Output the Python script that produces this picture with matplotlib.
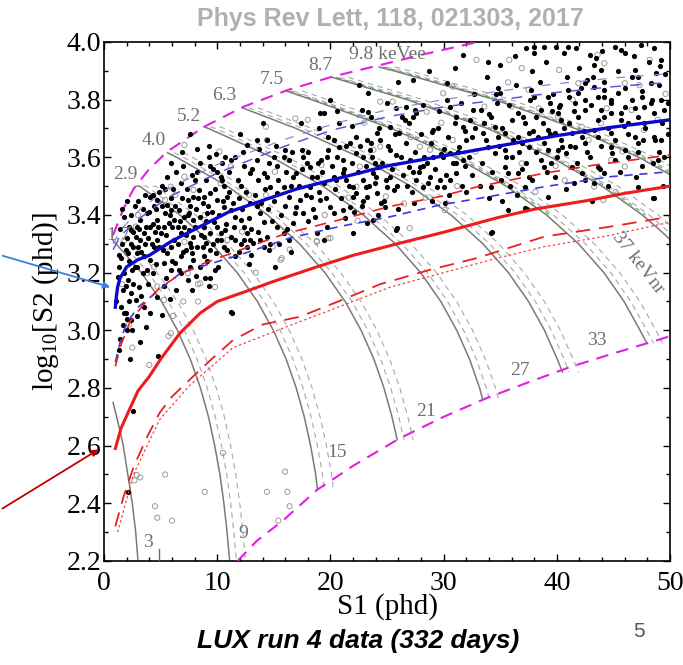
import matplotlib.pyplot as plt
from matplotlib.patches import FancyArrowPatch
from matplotlib.ticker import MultipleLocator

plt.rcParams["mathtext.fontset"] = "custom"
plt.rcParams["mathtext.rm"] = "Liberation Serif"
plt.rcParams["mathtext.it"] = "Liberation Serif:italic"

# ---- band curves (S1 in phd, log10 S2) ----
er_med_s1 = [1, 1.1, 1.2, 1.4, 2, 3, 4, 6, 8.5, 11, 14, 17, 20, 25, 30, 35, 40, 45, 50]
er_med_y = [3.08, 3.12, 3.15, 3.18, 3.22, 3.245, 3.26, 3.31, 3.36, 3.41, 3.45, 3.49, 3.52, 3.57, 3.605, 3.64, 3.675, 3.705, 3.73]

er_hi_s1 = [0.8, 1.5, 3.2, 5.6, 10, 15.8, 20.2, 25, 30, 35, 40, 45, 50]
er_hi_y = [3.28, 3.33, 3.39, 3.46, 3.545, 3.636, 3.695, 3.74, 3.775, 3.80, 3.825, 3.845, 3.86]
er_hi2_y = [3.30, 3.35, 3.42, 3.49, 3.575, 3.66, 3.715, 3.765, 3.80, 3.83, 3.855, 3.875, 3.89]

er_lo_s1 = [1, 1.5, 2, 3, 4.1, 5.5, 6.8, 8.5, 12.4, 16.4, 20.8, 25.3, 29.7, 33.2, 38.9, 44.8, 50]
er_lo_y = [2.89, 2.97, 3.025, 3.08, 3.115, 3.16, 3.20, 3.22, 3.267, 3.32, 3.36, 3.394, 3.435, 3.458, 3.498, 3.533, 3.55]

nr_med_s1 = [1, 1.5, 2.3, 3, 4, 5, 6.7, 8.5, 10, 12.9, 15, 18.8, 22, 25.9, 30, 34.7, 38, 42.7, 46, 50]
nr_med_y = [2.59, 2.66, 2.73, 2.79, 2.84, 2.90, 2.99, 3.06, 3.10, 3.14, 3.17, 3.22, 3.26, 3.30, 3.34, 3.39, 3.42, 3.45, 3.475, 3.50]

nr_hi_s1 = [1, 1.5, 2.3, 3.5, 5, 7, 9, 12.4, 16, 20.8, 25.3, 29.7, 33, 38.9, 43.3, 50]
nr_hi_y = [2.875, 2.95, 3.03, 3.09, 3.15, 3.20, 3.235, 3.284, 3.335, 3.383, 3.43, 3.464, 3.498, 3.545, 3.573, 3.608]

nr_lo_s1 = [1, 1.7, 2.6, 3.8, 4.9, 6, 7.6, 9.5, 11.4, 14, 17.3, 21, 24.4, 28.8, 32.9, 38.9, 44.8, 50]
nr_lo_y = [2.32, 2.42, 2.525, 2.63, 2.713, 2.77, 2.83, 2.90, 2.966, 3.02, 3.047, 3.105, 3.16, 3.21, 3.25, 3.325, 3.36, 3.394]
nr_lo2_s1 = [1.2, 2.6, 4.9, 7.6, 11.4, 17.3, 21, 25.3, 30, 34.7, 38.9, 44.8, 50]
nr_lo2_y = [2.30, 2.50, 2.69, 2.81, 2.94, 3.03, 3.085, 3.15, 3.20, 3.25, 3.29, 3.33, 3.375]

# ---- acceptance boundaries (magenta) ----
top_s1 = [0.8, 1.7, 2.6, 4, 5.6, 8.8, 12.3, 16.2, 20.2, 24.4, 28, 33]
top_y = [3.33, 3.42, 3.49, 3.56, 3.62, 3.705, 3.775, 3.833, 3.88, 3.92, 3.955, 4.0]
bot_s1 = [11.8, 13.5, 15.8, 18.8, 22, 26.1, 30, 33.8, 37.5, 41.2, 45, 48.9, 50]
bot_y = [2.2, 2.27, 2.34, 2.446, 2.53, 2.625, 2.70, 2.765, 2.82, 2.873, 2.92, 2.966, 2.98]

# ---- energy contours (gray) ----
contours = {
    "3": ([0.8, 1.3, 1.7, 2.1, 2.5, 2.8, 3.0],
          [2.75, 2.67, 2.6, 2.5, 2.4, 2.3, 2.2]),
    "9": ([0.8, 1.06, 3.3, 5.08, 6.49, 7.62, 8.52, 9.23, 9.78, 10.24, 10.59, 10.87, 11.1],
          [3.31, 3.3, 3.2, 3.1, 3.0, 2.9, 2.8, 2.7, 2.6, 2.5, 2.4, 2.3, 2.2]),
    "15": ([2.9, 3.14, 6.7, 9.52, 11.76, 13.55, 14.96, 16.09, 16.98, 17.69, 18.25, 18.7, 18.85],
           [3.50, 3.5, 3.4, 3.3, 3.2, 3.1, 3.0, 2.9, 2.8, 2.7, 2.6, 2.5, 2.45]),
    "21": ([5.6, 6.41, 10.89, 14.45, 17.27, 19.51, 21.3, 22.71, 23.84, 24.73, 25.44, 25.9],
           [3.616, 3.6, 3.5, 3.4, 3.3, 3.2, 3.1, 3.0, 2.9, 2.8, 2.7, 2.62]),
    "27": ([8.8, 9.23, 14.86, 19.34, 22.9, 25.73, 27.97, 29.75, 31.16, 32.29, 33.18, 33.45],
           [3.706, 3.7, 3.6, 3.5, 3.4, 3.3, 3.2, 3.1, 3.0, 2.9, 2.8, 2.76]),
    "33": ([12.2, 16.97, 22.6, 27.1, 30.65, 33.47, 35.72, 37.5, 38.91, 40.04, 40.5],
           [3.772, 3.7, 3.6, 3.5, 3.4, 3.3, 3.2, 3.1, 3.0, 2.9, 2.855]),
    "37": ([16.1, 18.33, 25.4, 31.05, 35.53, 39.09, 41.92, 44.16, 45.94, 47.35, 47.95],
           [3.83, 3.8, 3.7, 3.6, 3.5, 3.4, 3.3, 3.2, 3.1, 3.0, 2.955]),
    "8.7": ([20.2, 26.78, 33.87, 39.5, 44.0, 47.55, 49.03, 50],
            [3.877, 3.8, 3.7, 3.6, 3.5, 3.4, 3.35, 3.315]),
    "9.8": ([24.3, 25.6, 34.53, 41.62, 47.25, 50],
            [3.913, 3.9, 3.8, 3.7, 3.6, 3.54]),
}
green_keys = ["37", "8.7", "9.8"]

ee_labels = ["1.7", "2.9", "4.0", "5.2", "6.3", "7.5", "8.7", "9.8 keVee"]
ee_s1 = [1.3, 1.9, 4.4, 7.5, 10.6, 14.8, 19.1, 25.0]
ee_y = [3.33, 3.54, 3.66, 3.74, 3.816, 3.87, 3.92, 3.955]
nr_labels = ["3", "9", "15", "21", "27", "33"]
nr_s1 = [3.9, 12.3, 20.6, 28.4, 36.7, 43.5]
nr_y = [2.265, 2.297, 2.575, 2.72, 2.86, 2.966]

# ---- events ----
black_pts = [
    (13.5, 3.66), (14.4, 3.66), (9.3, 3.60), (10.7, 3.60), (11.2, 3.59), (9.9, 3.61), (12.6, 3.643),
    (13.5, 3.59), (14.1, 3.545), (14.4, 3.53), (15.3, 3.57), (15.9, 3.60), (16.3, 3.59),
    (12.4, 3.57), (12.9, 3.545), (11.8, 3.52), (12.1, 3.50), (9.4, 3.57), (10.0, 3.55), (10.3, 3.53),
    (10.4, 3.52), (10.6, 3.50), (7.8, 3.54), (8.2, 3.55), (5.4, 3.49), (5.9, 3.46), (5.6, 3.435),
    (7.1, 3.394), (7.5, 3.406), (7.9, 3.383), (8.5, 3.394), (8.8, 3.36), (9.1, 3.406), (9.7, 3.377),
    (10.0, 3.36), (11.2, 3.417), (11.6, 3.394), (12.1, 3.383), (12.4, 3.36), (12.6, 3.337),
    (12.9, 3.44), (13.5, 3.43), (13.8, 3.406), (14.1, 3.377), (14.4, 3.325), (14.7, 3.30),
    (15.3, 3.36), (15.9, 3.337), (16.3, 3.313), (11.2, 3.325), (11.6, 3.313), (12.1, 3.30), (12.4, 3.313),
    (10.3, 3.313), (10.6, 3.29), (9.9, 3.267), (2.35, 3.348), (2.8, 3.325), (3.2, 3.313), (2.6, 3.29),
    (2.9, 3.267), (3.5, 3.256), (2.1, 3.267), (1.8, 3.198), (2.1, 3.175), (2.5, 3.21), (2.9, 3.221),
    (3.4, 3.198), (3.8, 3.21), (4.1, 3.244), (4.4, 3.29), (4.7, 3.313), (5.0, 3.337), (5.3, 3.36),
    (5.7, 3.371), (6.2, 3.383), (6.5, 3.36), (6.8, 3.337), (6.2, 3.313), (5.9, 3.29), (5.6, 3.267),
    (5.3, 3.232), (5.9, 3.21), (6.3, 3.232), (6.8, 3.256), (7.2, 3.279), (7.6, 3.302), (7.9, 3.325),
    (7.5, 3.348), (7.1, 3.36), (3.2, 3.383), (3.8, 3.406), (4.4, 3.43), (4.7, 3.452), (4.1, 3.464),
    (5.4, 3.406), (1.8, 3.394), (2.2, 3.36), (2.9, 3.36), (3.5, 3.337), (4.1, 3.36), (4.7, 3.383),
    (5.1, 3.43), (1.2, 3.186), (1.9, 3.152), (2.35, 3.128), (2.8, 3.105), (3.5, 3.082), (1.8, 3.059),
    (2.35, 3.036), (3.7, 3.013), (5.1, 3.053), (4.7, 3.117), (5.3, 3.152), (6.8, 3.198), (7.4, 3.175),
    (9.4, 3.18), (9.3, 3.152), (11.2, 3.065), (8.5, 3.221), (7.9, 3.244), (8.8, 3.256), (9.4, 3.279),
    (8.8, 3.325), (9.4, 3.337), (10.0, 3.313), (9.0, 3.302), (8.2, 3.29), (7.8, 3.267), (10.3, 3.337),
    (10.7, 3.348), (12.9, 3.313), (13.2, 3.302), (12.6, 3.29), (13.8, 3.313), (14.1, 3.29), (11.6, 3.256),
    (8.8, 3.464), (9.4, 3.475), (10.0, 3.452), (10.6, 3.429), (10.9, 3.464), (6.8, 3.51), (7.4, 3.452),
    (7.9, 3.464), (8.4, 3.487), (6.6, 3.417), (5.9, 3.417), (14.7, 3.498), (15.3, 3.475), (15.9, 3.498),
    (16.3, 3.464), (15.0, 3.602), (16.0, 3.625),
    (27.3, 3.868), (23.3, 3.822), (30.3, 3.857), (31.7, 3.955), (19.1, 3.753), (19.4, 3.753), (20.8, 3.718),
    (22.8, 3.764), (23.3, 3.758), (25.8, 3.77), (26.7, 3.776), (27.5, 3.764), (27.3, 3.741), (27.6, 3.753),
    (26.6, 3.73), (26.9, 3.718), (29.1, 3.695), (29.0, 3.689), (30.6, 3.776), (31.1, 3.741), (31.7, 3.706),
    (32.3, 3.73), (32.6, 3.764), (30.3, 3.799), (25.3, 3.706), (26.1, 3.683), (24.1, 3.683), (24.4, 3.66),
    (22.3, 3.672), (23.2, 3.66), (23.6, 3.649), (20.3, 3.66), (20.8, 3.637), (21.7, 3.649), (17.5, 3.626),
    (17.6, 3.602), (17.9, 3.579), (19.7, 3.602), (19.8, 3.626), (21.1, 3.591), (22.3, 3.614), (22.9, 3.602),
    (23.5, 3.626), (23.9, 3.579), (24.2, 3.568), (25.3, 3.626), (25.8, 3.608), (26.9, 3.568), (27.3, 3.55),
    (27.9, 3.568), (28.5, 3.579), (29.1, 3.602), (29.96, 3.602), (30.6, 3.614), (31.4, 3.637), (32.0, 3.66),
    (32.5, 3.672), (31.1, 3.579), (31.7, 3.591), (28.8, 3.533), (29.4, 3.498), (30.0, 3.498), (29.7, 3.521),
    (28.2, 3.498), (27.6, 3.521), (25.3, 3.533), (25.0, 3.498), (25.6, 3.487), (23.8, 3.545), (23.9, 3.51),
    (22.9, 3.521), (23.1, 3.498), (22.0, 3.498), (21.4, 3.521), (21.1, 3.545), (20.5, 3.521), (19.4, 3.51),
    (18.8, 3.533), (17.0, 3.545), (16.7, 3.533), (18.2, 3.498), (18.3, 3.464), (19.1, 3.452), (17.3, 3.452),
    (17.0, 3.429), (17.6, 3.406), (20.0, 3.429), (20.3, 3.406), (18.6, 3.394), (21.1, 3.417), (21.7, 3.429),
    (22.0, 3.464), (22.3, 3.475), (23.2, 3.464), (24.1, 3.475), (24.5, 3.441), (24.8, 3.429), (23.8, 3.383),
    (23.2, 3.371), (22.0, 3.337), (19.4, 3.313), (18.8, 3.337), (25.8, 3.348), (30.1, 3.441), (30.6, 3.521),
    (31.1, 3.545), (16.7, 3.371), (16.9, 3.406), (20.3, 3.533), (18.2, 3.568), (19.2, 3.591),
    (37.3, 3.978), (38.0, 3.984), (38.9, 3.984), (39.9, 3.984), (41.0, 3.984), (45.1, 3.984), (45.7, 3.972),
    (46.0, 3.961), (33.9, 3.932), (42.9, 3.955), (43.5, 3.943), (43.9, 3.903), (49.2, 3.938), (49.1, 3.915),
    (48.8, 3.891), (42.5, 3.857), (42.7, 3.868), (43.2, 3.88), (43.3, 3.845), (44.2, 3.834), (46.9, 3.903),
    (47.2, 3.88), (48.3, 3.857), (34.8, 3.839), (35.0, 3.822), (37.7, 3.834), (38.0, 3.81), (39.2, 3.81),
    (39.4, 3.787), (40.2, 3.776), (41.0, 3.834), (41.1, 3.81), (41.9, 3.822), (41.6, 3.787), (42.5, 3.799),
    (43.6, 3.81), (44.2, 3.81), (44.8, 3.787), (45.4, 3.822), (46.0, 3.776), (46.6, 3.799), (47.5, 3.81),
    (47.7, 3.776), (48.3, 3.787), (49.2, 3.799), (49.8, 3.787), (33.3, 3.764), (34.2, 3.741), (33.6, 3.718),
    (34.5, 3.706), (36.0, 3.73), (36.6, 3.753), (37.2, 3.718), (38.2, 3.741), (38.6, 3.764), (40.1, 3.753),
    (40.4, 3.73), (41.1, 3.718), (41.9, 3.741), (42.5, 3.764), (43.9, 3.764), (44.2, 3.741), (44.8, 3.753),
    (45.7, 3.753), (46.3, 3.718), (47.2, 3.741), (47.7, 3.718), (48.6, 3.753), (49.5, 3.764), (33.5, 3.683),
    (34.8, 3.672), (35.4, 3.683), (36.6, 3.672), (37.5, 3.683), (38.3, 3.672), (39.2, 3.695), (39.8, 3.683),
    (40.4, 3.66), (41.3, 3.683), (42.2, 3.672), (43.3, 3.695), (43.6, 3.672), (44.8, 3.683), (46.9, 3.672),
    (47.2, 3.649), (47.6, 3.66), (48.6, 3.672), (49.2, 3.66), (33.9, 3.637), (34.5, 3.614), (35.4, 3.626),
    (36.0, 3.602), (36.9, 3.649), (37.5, 3.637), (38.9, 3.649), (39.2, 3.626), (40.1, 3.626), (40.5, 3.637),
    (40.8, 3.614), (41.6, 3.637), (42.5, 3.649), (44.8, 3.637), (44.9, 3.614), (45.1, 3.591), (46.0, 3.626),
    (46.3, 3.602), (35.4, 3.568), (35.7, 3.545), (36.6, 3.545), (35.1, 3.521), (37.5, 3.533), (37.2, 3.498),
    (38.6, 3.591), (38.9, 3.568), (39.5, 3.579), (41.3, 3.568), (42.2, 3.545), (42.5, 3.521), (43.6, 3.568),
    (44.2, 3.545), (34.2, 3.498), (39.2, 3.464), (43.3, 3.51), (47.2, 3.498), (35.7, 3.417), (37.2, 3.423),
    (34.2, 3.336), (48.6, 3.458), (48.9, 3.591), (48.5, 3.579),
    (2.6, 2.72), (2.1, 2.44), (11.3, 3.06), (4.8, 2.91), (1.9, 3.06), (1.7, 3.02), (2.5, 3.0), (2.0, 3.04),
    (34.3, 3.34), (25.9, 3.355), (48.5, 3.46), (37.4, 3.42), (35.2, 3.45),
]

# second pass over the densest parts of the band
black_pts_dense = [
    (1.3, 3.22), (1.5, 3.25), (1.6, 3.30), (1.4, 3.35), (1.9, 3.28), (2.0, 3.32), (2.2, 3.24), (2.4, 3.30),
    (2.6, 3.34), (2.7, 3.22), (3.0, 3.29), (3.1, 3.35), (3.3, 3.27), (3.6, 3.30), (3.7, 3.36), (3.9, 3.32),
    (4.2, 3.30), (4.3, 3.37), (4.5, 3.34), (4.8, 3.36), (4.9, 3.29), (2.4, 3.40), (2.7, 3.43), (3.0, 3.45),
    (3.4, 3.42), (3.6, 3.47), (4.0, 3.41), (4.3, 3.47), (4.6, 3.42), (4.9, 3.48), (1.6, 3.42), (2.0, 3.45),
    (1.3, 3.26), (1.7, 3.14), (2.2, 3.10), (2.6, 3.16), (3.1, 3.15), (3.3, 3.12), (3.9, 3.16), (4.3, 3.20),
    (4.6, 3.23), (1.5, 3.08), (2.0, 3.00), (1.4, 2.97), (2.9, 3.05), (3.2, 2.96), (4.1, 3.06), (1.1, 3.10),
    (1.3, 2.93), (2.3, 2.90),
    (5.2, 3.28), (5.5, 3.33), (5.8, 3.40), (6.0, 3.36), (6.3, 3.43), (6.5, 3.30), (6.7, 3.38), (6.9, 3.46),
    (7.2, 3.33), (7.4, 3.40), (7.6, 3.43), (7.7, 3.29), (8.0, 3.36), (8.1, 3.42), (8.3, 3.46), (8.6, 3.33),
    (8.7, 3.44), (9.0, 3.38), (9.2, 3.43), (9.5, 3.41), (9.6, 3.30), (9.8, 3.49), (5.1, 3.50), (5.6, 3.53),
    (6.1, 3.49), (6.4, 3.55), (7.0, 3.57), (7.3, 3.49), (8.0, 3.52), (8.5, 3.58), (9.0, 3.52), (9.6, 3.56),
    (5.5, 3.18), (6.0, 3.24), (6.6, 3.21), (7.0, 3.27), (7.6, 3.22), (8.1, 3.19), (8.7, 3.29), (9.1, 3.24),
    (9.8, 3.21), (6.4, 3.14), (7.8, 3.14), (5.8, 3.11), (8.9, 3.18), (6.9, 3.62), (8.2, 3.63), (5.9, 3.58),
    (9.3, 3.64), (7.6, 3.68),
    (10.2, 3.40), (10.5, 3.45), (10.8, 3.37), (11.0, 3.48), (11.4, 3.44), (11.5, 3.36), (11.9, 3.46),
    (12.2, 3.42), (12.5, 3.48), (12.8, 3.39), (13.0, 3.35), (13.3, 3.47), (13.6, 3.52), (13.9, 3.44),
    (14.2, 3.49), (14.5, 3.42), (14.8, 3.38), (15.0, 3.45), (15.4, 3.52), (15.6, 3.40), (16.0, 3.43),
    (16.5, 3.50), (10.4, 3.58), (11.0, 3.55), (11.6, 3.60), (12.3, 3.62), (13.1, 3.56), (13.7, 3.63),
    (14.6, 3.58), (15.2, 3.64), (16.1, 3.55), (16.6, 3.62), (10.9, 3.28), (11.9, 3.27), (13.0, 3.26),
    (13.6, 3.34), (14.6, 3.28), (15.5, 3.30), (16.2, 3.35), (10.1, 3.22), (12.8, 3.23), (15.1, 3.22),
    (16.5, 3.27), (12.0, 3.68), (14.0, 3.72),
    (17.2, 3.50), (17.5, 3.56), (17.8, 3.47), (18.0, 3.62), (18.4, 3.53), (18.5, 3.42), (18.9, 3.58),
    (19.0, 3.48), (19.3, 3.55), (19.6, 3.46), (19.8, 3.67), (20.1, 3.57), (20.4, 3.49), (20.6, 3.60),
    (20.9, 3.46), (21.2, 3.56), (21.4, 3.64), (21.6, 3.50), (21.9, 3.58), (22.1, 3.41), (22.4, 3.55),
    (22.6, 3.64), (22.9, 3.45), (23.1, 3.57), (23.4, 3.50), (23.7, 3.60), (24.0, 3.53), (24.3, 3.70),
    (24.6, 3.58), (24.9, 3.52), (25.1, 3.64), (25.4, 3.56), (25.7, 3.68), (25.9, 3.50), (26.2, 3.60),
    (26.4, 3.54), (26.7, 3.65), (27.0, 3.59), (27.2, 3.48), (27.5, 3.62), (27.8, 3.55), (28.0, 3.68),
    (28.3, 3.60), (28.6, 3.51), (28.9, 3.65), (29.2, 3.56), (29.5, 3.70), (29.8, 3.61), (30.2, 3.54),
    (30.4, 3.67), (30.8, 3.58), (31.0, 3.72), (31.3, 3.62), (31.6, 3.50), (31.9, 3.69), (32.2, 3.60),
    (32.5, 3.54), (32.8, 3.70), (17.4, 3.72), (19.0, 3.70), (20.6, 3.76), (21.9, 3.71), (23.6, 3.74),
    (25.0, 3.79), (26.3, 3.74), (28.2, 3.78), (29.6, 3.76), (31.5, 3.79), (32.7, 3.82), (18.0, 3.38),
    (19.7, 3.36), (21.3, 3.39), (22.8, 3.43), (24.2, 3.40), (26.0, 3.42), (27.4, 3.44), (29.0, 3.45),
    (30.5, 3.47), (32.0, 3.48), (20.0, 3.80), (22.5, 3.85), (26.0, 3.86), (28.7, 3.90), (31.0, 3.91),
    (24.7, 3.45), (26.8, 3.50), (28.2, 3.57), (30.0, 3.63), (31.9, 3.57),
    (33.4, 3.58), (33.7, 3.66), (34.0, 3.75), (34.3, 3.55), (34.6, 3.82), (34.9, 3.64), (35.2, 3.70),
    (35.5, 3.60), (35.8, 3.78), (36.1, 3.66), (36.4, 3.85), (36.7, 3.62), (37.0, 3.74), (37.3, 3.58),
    (37.6, 3.80), (37.9, 3.69), (38.2, 3.62), (38.5, 3.86), (38.8, 3.72), (39.1, 3.55), (39.4, 3.68),
    (39.7, 3.82), (40.0, 3.60), (40.3, 3.78), (40.6, 3.70), (40.9, 3.88), (41.2, 3.64), (41.5, 3.76),
    (41.8, 3.58), (42.1, 3.84), (42.4, 3.69), (42.7, 3.62), (43.0, 3.78), (43.3, 3.92), (43.6, 3.73),
    (43.9, 3.64), (44.2, 3.86), (44.5, 3.70), (44.8, 3.80), (45.1, 3.66), (45.4, 3.90), (45.7, 3.73),
    (46.0, 3.84), (46.3, 3.68), (46.6, 3.88), (46.9, 3.77), (47.2, 3.62), (47.5, 3.83), (47.8, 3.70),
    (48.1, 3.93), (48.4, 3.80), (48.7, 3.66), (49.0, 3.85), (49.3, 3.72), (49.6, 3.89), (49.8, 3.68),
    (33.8, 3.88), (35.0, 3.92), (36.3, 3.95), (37.8, 3.90), (39.0, 3.93), (40.6, 3.96), (42.0, 3.91),
    (44.0, 3.97), (46.8, 3.95), (48.6, 3.98), (34.0, 3.46), (35.9, 3.50), (37.8, 3.52), (39.8, 3.53),
    (41.5, 3.51), (43.8, 3.56), (45.6, 3.55), (47.5, 3.57), (49.5, 3.60), (36.5, 3.47), (40.8, 3.49),
    (44.5, 3.50), (38.0, 3.96), (41.7, 3.98), (47.4, 3.99), (34.7, 3.79), (39.6, 3.76), (45.9, 3.71),
    (49.0, 3.62), (42.9, 3.60), (36.9, 3.56), (33.2, 3.50), (47.0, 3.53), (43.1, 3.45), (49.4, 3.50),
]

gray_pts = [
    (14.3, 3.706), (7.1, 3.643), (14.4, 3.66), (7.1, 3.533), (7.9, 3.487), (11.2, 3.568), (14.3, 3.469),
    (15.6, 3.244), (14.9, 3.29), (5.6, 3.29), (3.8, 3.198), (4.7, 3.152), (5.3, 3.105), (7.4, 3.198),
    (8.5, 3.163), (5.9, 3.498), (5.4, 3.452), (10.3, 3.51), (5.9, 2.99), (1.8, 3.313), (2.8, 3.36),
    (10.9, 3.313), (12.2, 3.342), (7.1, 3.307),
    (24.4, 3.793), (25.5, 3.793), (29.96, 3.822), (28.5, 3.758), (30.8, 3.845), (32.9, 3.938), (18.0, 3.73),
    (16.9, 3.735), (22.6, 3.568), (19.2, 3.573), (22.3, 3.498), (24.9, 3.464), (23.8, 3.626), (27.9, 3.637),
    (28.8, 3.626), (18.8, 3.307), (19.8, 3.319), (27.0, 3.354), (30.1, 3.417), (30.8, 3.66), (24.4, 3.637),
    (35.8, 3.938), (36.9, 3.909), (40.2, 3.903), (43.6, 3.955), (44.2, 3.926), (48.2, 3.938), (46.0, 3.857),
    (36.0, 3.776), (40.1, 3.741), (42.2, 3.706), (43.9, 3.718), (46.6, 3.764), (47.7, 3.695), (46.0, 3.568),
    (44.8, 3.591), (36.9, 3.579), (43.3, 3.498), (44.1, 3.452), (37.5, 3.834), (33.6, 3.776), (41.9, 3.857),
    (2.9, 2.498), (3.2, 2.49), (2.7, 2.48), (5.4, 2.5), (4.5, 2.39), (4.7, 2.35), (6.0, 2.34), (8.9, 2.44),
    (10.5, 2.575), (14.4, 2.44), (16.2, 2.44), (16.0, 2.51), (16.4, 2.39), (15.4, 2.34),
    (5.7, 2.98), (2.5, 2.94), (7.0, 3.1), (8.3, 3.16), (8.3, 3.1), (15.7, 3.25), (16.4, 3.28),
    (18.8, 3.31), (20.0, 3.32),
    (3.0, 3.40), (4.4, 3.22), (6.3, 3.47), (8.9, 3.40), (10.2, 3.62), (12.8, 3.47), (15.1, 3.55),
    (17.8, 3.62), (19.5, 3.40), (21.6, 3.46), (23.0, 3.72), (25.6, 3.57), (27.1, 3.67), (28.4, 3.46),
    (29.8, 3.72), (31.2, 3.50), (32.8, 3.62), (34.4, 3.70), (35.7, 3.86), (37.1, 3.66), (38.4, 3.77),
    (39.9, 3.57), (41.4, 3.80), (42.8, 3.66), (44.4, 3.77), (45.8, 3.62), (47.3, 3.85), (48.9, 3.73),
    (49.6, 3.82), (38.1, 3.48), (40.7, 3.52), (45.2, 3.48), (26.5, 3.44), (22.4, 3.38), (13.4, 3.20),
    (9.8, 3.15), (6.1, 3.05), (2.2, 3.02), (1.6, 3.16), (4.0, 2.88),
]

fig = plt.figure(figsize=(6.83, 6.65), dpi=100)
ax = fig.add_axes([0.1523, 0.1564, 0.8287, 0.7805])

for key, (xs, ys) in contours.items():
    ax.plot(xs, ys, color="#7a7a7a", lw=1.1, zorder=2)
    if key == "3":
        continue
    # dashed companions sit a little to the right of each solid contour
    for shift in (0.6, 1.4):
        ax.plot([x + shift for x in xs], ys, color="#a8a8a8", lw=0.8,
                ls=(0, (5, 4)), zorder=2)
    if key in green_keys:
        gx = [x + 0.3 for x, y in zip(xs, ys) if y > 3.35]
        gy = [y for y in ys if y > 3.35]
        ax.plot(gx, gy, color="#5aa05a", lw=0.8, ls=(0, (4, 4)), zorder=2)

ax.plot(top_s1, top_y, color="#e020e0", lw=1.5, ls=(0, (6, 4)), zorder=3)
ax.plot(bot_s1, bot_y, color="#e020e0", lw=1.5, ls=(0, (6, 4)), zorder=3)

ax.scatter([p[0] for p in gray_pts], [p[1] for p in gray_pts], s=14, facecolors="none",
           edgecolors="#9a9a9a", linewidths=0.7, zorder=4)
all_black = black_pts + black_pts_dense
ax.scatter([p[0] for p in all_black], [p[1] for p in all_black], s=14, color="black",
           linewidths=0, zorder=5)

ax.plot(er_hi_s1, er_hi_y, color="#5a5ad8", lw=1.1, ls=(0, (7, 6)), zorder=6)
ax.plot(er_hi_s1, er_hi2_y, color="#8a8ae0", lw=0.9, ls=(0, (7, 8)), zorder=6)
ax.plot(er_lo_s1, er_lo_y, color="#3a3ae0", lw=1.2, ls=(0, (5, 4)), zorder=6)
ax.plot(nr_hi_s1, nr_hi_y, color="#e82020", lw=1.2, ls=(0, (7, 5)), zorder=6)
ax.plot(nr_lo_s1, nr_lo_y, color="#e82020", lw=1.3, ls=(0, (8, 5)), zorder=6)
ax.plot(nr_lo2_s1, nr_lo2_y, color="#f04848", lw=0.9, ls=(0, (2, 2)), zorder=6)
ax.plot(er_med_s1, er_med_y, color="#0a0acc", lw=2.4, zorder=7)
ax.plot(nr_med_s1, nr_med_y, color="#ee1c1c", lw=2.2, zorder=7)
ax.plot([4.85, 4.85], [2.2, 2.24], color="#20a020", lw=1.0, zorder=3)

tfont = dict(family="Liberation Serif", color="#707070", fontsize=14)
for lab, x, y in zip(ee_labels, ee_s1, ee_y):
    ax.text(x, y, lab, ha="center", va="center", zorder=8, **tfont)
for lab, x, y in zip(nr_labels, nr_s1, nr_y):
    ax.text(x, y, lab, ha="center", va="center", zorder=8, **tfont)
ax.text(47.2, 3.233, "37 keVnr", ha="center", va="center", rotation=-52, zorder=8, **tfont)

ax.set_xlim(0, 50)
ax.set_ylim(2.2, 4.0)
ax.xaxis.set_major_locator(MultipleLocator(10))
ax.xaxis.set_minor_locator(MultipleLocator(2))
ax.yaxis.set_major_locator(MultipleLocator(0.2))
ax.yaxis.set_minor_locator(MultipleLocator(0.1))
ax.yaxis.set_major_formatter(plt.FuncFormatter(lambda v, p: f"{v:.1f}"))
ax.xaxis.set_major_formatter(plt.FuncFormatter(lambda v, p: f"{v:.0f}"))
ax.tick_params(which="both", direction="in", top=True, right=True, width=1.0)
ax.tick_params(which="major", length=5, labelsize=20)
ax.tick_params(axis="x", which="major", pad=7)
ax.tick_params(axis="y", which="major", pad=2)
ax.tick_params(which="minor", length=3)
for lab in ax.get_yticklabels() + ax.get_xticklabels():
    lab.set_family("Liberation Serif")
for sp in ax.spines.values():
    sp.set_linewidth(1.2)

ax.set_xlabel("S1 (phd)", family="Liberation Serif", fontsize=21, labelpad=-2)
ax.set_ylabel(r"log$_{10}$[S2 (phd)]", family="Liberation Serif", fontsize=21, labelpad=4)

fig.text(0.571, 0.972, "Phys Rev Lett, 118, 021303, 2017", ha="center", va="center",
         family="Liberation Sans", weight="bold", color="#b0b0b0", fontsize=18)
fig.text(0.524, 0.036, "LUX run 4 data (332 days)", ha="center", va="center",
         family="Liberation Sans", weight="bold", style="italic", fontsize=19)
fig.text(0.935, 0.05, "5", ha="center", va="center", family="Liberation Sans",
         color="#555555", fontsize=15)

# arrows pointing at the band medians
fig.add_artist(FancyArrowPatch((0.0, 1 - 255 / 665), (113 / 683, 1 - 288 / 665),
                               transform=fig.transFigure, arrowstyle="-|>",
                               mutation_scale=10, color="#3c7fd8", lw=1.3))
fig.add_artist(FancyArrowPatch((0.0, 1 - 510 / 665), (101 / 683, 1 - 448 / 665),
                               transform=fig.transFigure, arrowstyle="-|>",
                               mutation_scale=10, color="#c00000", lw=1.3))

fig.savefig("out.png", dpi=100)
